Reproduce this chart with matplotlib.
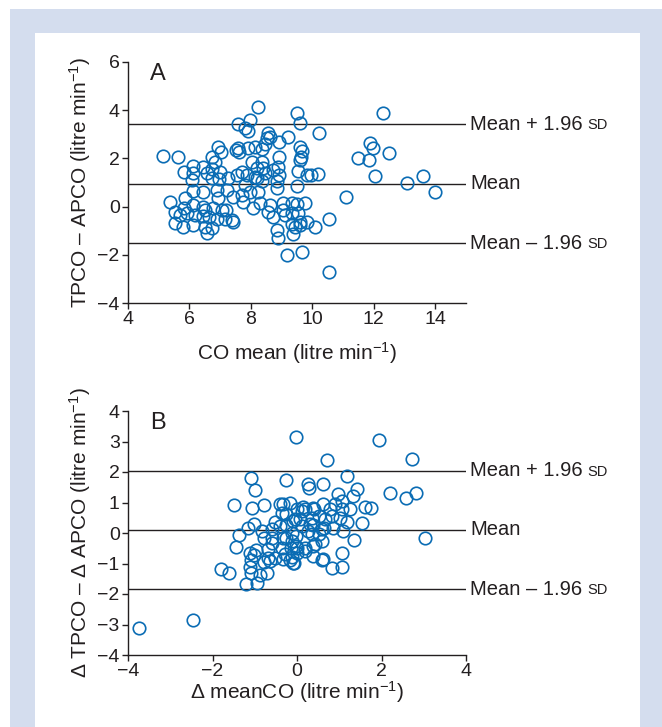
import matplotlib.pyplot as plt
import matplotlib.transforms as mtransforms
from matplotlib.patches import Rectangle

plt.rcParams['font.family'] = ['Liberation Sans', 'DejaVu Sans']
plt.rcParams['mathtext.fontset'] = 'custom'
plt.rcParams['mathtext.rm'] = 'Liberation Sans'
plt.rcParams['mathtext.it'] = 'Liberation Sans:italic'
plt.rcParams['mathtext.bf'] = 'Liberation Sans:bold'

# Panel A: CO mean vs TPCO - APCO
a_mean = [5.14, 5.62, 6.94, 7.02, 6.73, 6.83, 7.52, 5.81, 6.11, 6.11, 6.45, 6.57, 6.73, 7.00,
          6.73, 6.96, 7.27, 7.54, 6.08, 6.13, 6.45, 6.89, 7.21, 7.43, 6.94, 5.37, 5.86, 5.81,
          5.54, 6.13, 6.45, 6.51, 6.78, 7.05, 7.19, 5.68, 5.92, 6.19, 6.45, 6.62, 6.89, 7.16,
          7.38, 5.54, 5.79, 6.13, 6.51, 6.73, 6.58, 7.59, 7.97, 7.81, 7.92, 8.24, 9.49, 9.59,
          10.22, 8.57, 8.62, 8.51, 8.92, 9.21, 7.59, 7.62, 7.92, 8.13, 8.35, 8.46, 9.59, 9.62,
          9.59, 8.92, 8.89, 8.92, 8.03, 8.35, 8.19, 7.70, 7.86, 8.13, 8.46, 8.73, 9.54, 9.81,
          9.97, 10.19, 7.81, 8.35, 8.84, 8.84, 9.49, 7.70, 7.97, 8.24, 7.75, 8.08, 8.30, 8.62,
          9.05, 9.33, 9.49, 8.57, 8.73, 9.05, 9.11, 9.54, 9.59, 9.81, 10.08, 7.43, 8.84, 8.89,
          9.33, 9.43, 9.38, 9.16, 9.65, 12.30, 9.65, 11.89, 11.97, 11.84, 11.49, 12.48, 12.03,
          13.08, 13.60, 13.98, 11.09, 9.59, 10.55, 10.55, 9.76, 9.33, 8.38, 8.19]
a_diff = [2.10, 2.07, 2.49, 2.28, 2.07, 1.86, 2.35, 1.45, 1.70, 1.38, 1.63, 1.38, 1.55, 1.45,
          1.17, 1.13, 1.17, 1.31, 1.10, 0.65, 0.62, 0.69, 0.69, 0.41, 0.34, 0.20, 0.34, -0.07,
          -0.21, 0.07, 0.00, -0.14, -0.07, -0.14, -0.14, -0.35, -0.28, -0.35, -0.39, -0.44, -0.53, -0.53,
          -0.56, -0.69, -0.83, -0.76, -0.83, -0.90, -1.11, 3.42, 3.59, 3.27, 3.15, 4.15, 3.87, 3.46,
          3.04, 3.04, 2.90, 2.83, 2.69, 2.90, 2.42, 2.28, 2.42, 2.49, 2.39, 2.59, 2.49, 2.07,
          1.93, 2.07, 1.66, 1.31, 1.86, 1.86, 1.59, 1.45, 1.31, 1.24, 1.38, 1.52, 1.48, 1.31,
          1.31, 1.34, 0.90, 1.06, 1.06, 0.76, 0.87, 0.48, 0.62, 0.59, 0.20, -0.07, 0.14, 0.07,
          0.14, 0.14, 0.10, -0.21, -0.42, -0.14, -0.35, -0.28, -0.63, -0.63, -0.83, -0.63, -0.97, -1.29,
          -0.73, -0.83, -1.15, -2.01, -1.87, 3.87, 2.32, 2.63, 2.42, 1.93, 2.03, 2.24, 1.28,
          0.99, 1.27, 0.59, 0.41, -0.76, -0.53, -2.70, 0.15, -0.28, 1.59, 1.17]
a_limits = [3.41, 0.94, -1.52]

# Panel B: delta meanCO vs delta TPCO - delta APCO
b_mean = [-3.74, -2.47, -0.02, -1.10, -1.00, -0.27, -1.49, -1.06, -0.78, -1.81, -1.60, -1.38,
          -1.45, -1.17, -1.02, -0.84, -0.79, -1.12, -1.02, -0.98, -1.08, -1.12, -1.08, -1.20,
          -0.95, -0.88, -0.79, -0.68, -0.63, -0.68, -0.72, -0.36, -0.34, -0.17, -0.40, -0.60,
          -0.52, -0.25, -0.05, -0.01, -0.60, -0.36, -0.25, -0.13, -0.01, -0.52, -0.29, -0.17,
          -0.06, 1.95, 0.71, 2.73, 1.18, 0.27, 0.29, 0.61, 0.98, 1.42, 1.33, 2.21, 2.57, 2.81,
          3.02, 1.36, 0.15, 0.39, 0.61, 0.89, 1.06, 1.26, 1.06, 1.62, 1.74, 0.83, 0.67, 0.35,
          0.11, -0.09, -0.25, 1.18, 1.54, 0.86, 0.63, 0.53, 0.37, 0.11, -0.02, 0.27, 0.43,
          -0.02, -0.14, 1.06, 0.83, 1.06, 0.59, 0.39, 0.19, -0.01, -0.13, -0.09, 0.19, 0.40,
          0.79, 0.07, 0.51, 1.02, 0.31, 0.59, 1.10, 0.35, 0.59, 0.19, 0.39, 0.62, -0.40, -0.13,
          -0.60, -0.33, -0.33]
b_diff = [-3.12, -2.85, 3.16, 1.79, 1.40, 1.73, 0.91, 0.83, 0.91, -1.17, -1.30, -0.08,
          -0.45, 0.16, 0.30, 0.07, -0.15, -0.65, -0.72, -0.57, -0.90, -1.11, -1.30, -1.66,
          -1.63, -1.38, -0.95, -0.83, -0.92, -0.53, -1.30, 0.67, 0.96, 0.99, 0.94, 0.14,
          0.37, 0.26, 0.45, 0.78, -0.15, -0.48, -0.15, -0.26, -0.48, -0.81, -0.70, -0.90,
          -0.99, 3.04, 2.39, 2.44, 1.87, 1.60, 1.47, 1.62, 1.29, 1.43, 1.21, 1.32, 1.16, 1.32,
          -0.15, -0.23, 0.85, 0.83, 0.94, 0.94, 1.05, 0.78, 0.78, 0.85, 0.83, 0.56, 0.45, 0.50,
          0.72, 0.39, 0.61, 0.37, 0.34, 0.17, 0.17, -0.04, 0.26, 0.23, -0.10, 0.07, -0.37,
          -0.43, -0.48, -0.65, -1.14, -1.10, -0.90, -0.75, -0.59, -0.65, -0.79, -0.97, 0.78, 0.78,
          0.78, 0.45, 0.56, 0.50, 0.29, 0.12, 0.07, -0.04, -0.26, -0.48, -0.43, -0.86, 0.23, 0.01,
          -0.32, -0.17, -0.86]
b_limits = [2.04, 0.10, -1.84]

limit_labels = ["Mean + 1.96", "Mean", "Mean \u2013 1.96"]

ink = '#231f20'
blue = '#0a6cb4'
frame = '#d4ddee'

fig = plt.figure(figsize=(6.62, 7.27), dpi=100)
fig.patches.append(Rectangle((10 / 662, 0), 1, (727 - 9) / 727, transform=fig.transFigure,
                             facecolor=frame, edgecolor='none', zorder=-2))
fig.patches.append(Rectangle((35 / 662, 0), (640 - 35) / 662, (727 - 33) / 727,
                             transform=fig.transFigure, facecolor='white', edgecolor='none', zorder=-1))


def panel(ax, x, y, limits, letter, xlabel, ylabel):
    ax.plot(x, y, 'o', ms=9, mfc='none', mec=blue, mew=1.2, clip_on=False, zorder=3)
    trans = mtransforms.blended_transform_factory(ax.transAxes, ax.transData)
    for val, lab in zip(limits, limit_labels):
        ax.axhline(val, color=ink, lw=1.0, zorder=2)
        t = ax.text(1.012, val, lab, transform=trans, ha='left', va='center', fontsize=14.5, color=ink)
        if "1.96" in lab:
            ax.annotate("SD", xy=(1, 0), xycoords=t, xytext=(3.5, 1.2), textcoords='offset points',
                        ha='left', va='bottom', fontsize=10.5, color=ink)
    for s in ['top', 'right']:
        ax.spines[s].set_visible(False)
    for s in ['left', 'bottom']:
        ax.spines[s].set_color(ink)
        ax.spines[s].set_linewidth(1.0)
    ax.tick_params(direction='out', length=4, width=1, colors=ink, labelsize=14, pad=2)
    ax.text(0.065, 0.995, letter, transform=ax.transAxes, ha='left', va='top', fontsize=17, color=ink)
    ax.set_xlabel(xlabel, fontsize=15, color=ink)
    ax.set_ylabel(ylabel, fontsize=15, color=ink)
    ax.set_facecolor('none')


axA = fig.add_axes([128 / 662, (727 - 303) / 727, 338 / 662, 241 / 727])
panel(axA, a_mean, a_diff, a_limits, "A", r"CO mean (litre min$^{-1}$)",
      "TPCO \u2013 APCO (litre min$^{-1}$)")
axA.set_xlim(4, 15)
axA.set_ylim(-4, 6)
axA.set_xticks([4, 6, 8, 10, 12, 14])
axA.set_yticks([-4, -2, 0, 2, 4, 6])
axA.xaxis.set_label_coords(0.5, -0.155)
axA.yaxis.set_label_coords(-0.105, 0.5)

axB = fig.add_axes([128 / 662, (727 - 655) / 727, 338 / 662, 244 / 727])
panel(axB, b_mean, b_diff, b_limits, "B", r"$\Delta$ meanCO (litre min$^{-1}$)",
      "$\\Delta$ TPCO \u2013 $\\Delta$ APCO (litre min$^{-1}$)")
axB.set_xlim(-4, 4)
axB.set_ylim(-4, 4)
axB.set_xticks([-4, -2, 0, 2, 4])
axB.set_yticks([-4, -3, -2, -1, 0, 1, 2, 3, 4])
axB.xaxis.set_label_coords(0.5, -0.1)
axB.yaxis.set_label_coords(-0.105, 0.5)

fig.savefig("out.png", dpi=100)
